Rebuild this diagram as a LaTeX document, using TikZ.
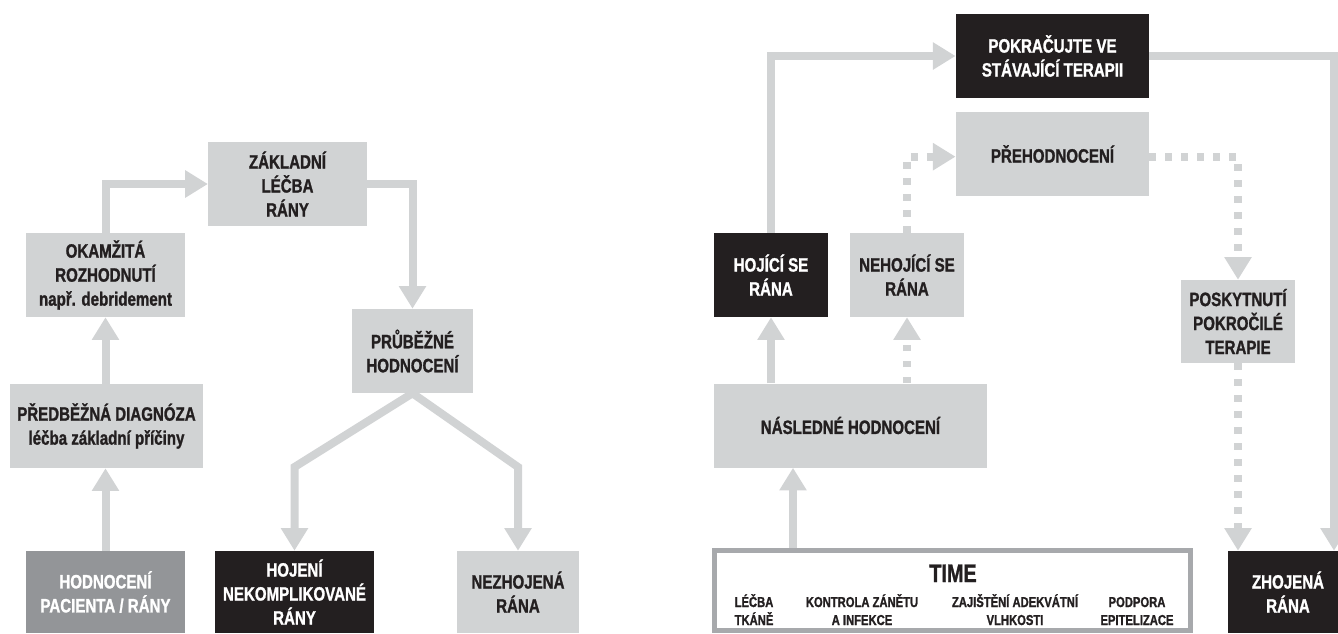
\documentclass[tikz,border=0pt]{standalone}
\usepackage{fontspec}
\setmainfont{Liberation Sans}[FakeStretch=0.78,FakeBold=1.2]
\usetikzlibrary{arrows.meta}

\definecolor{boxgray}{RGB}{209,211,212}
\definecolor{midgray}{RGB}{147,149,152}
\definecolor{inkblack}{RGB}{35,31,32}
\definecolor{framegray}{RGB}{167,169,172}

\begin{document}
\begin{tikzpicture}[x=0.75pt,y=0.75pt,yscale=-1,
  >={Triangle[length=17pt,width=19.5pt]},
  lbox/.style={fill=boxgray, text=inkblack, minimum height=63pt, inner sep=0pt, align=center,
    font=\fontsize{14.5}{18}\selectfont\bfseries},
  dbox/.style={lbox, fill=inkblack, text=white},
  gbox/.style={lbox, fill=midgray, text=white},
  coltext/.style={anchor=base, align=center, text=inkblack, inner sep=0pt,
    font=\fontsize{10.8}{13.5}\selectfont\bfseries},
  flow/.style={draw=boxgray, line width=6pt, ->},
  dotflow/.style={flow, dash pattern=on 5pt off 7pt},
]
\useasboundingbox (0,0) rectangle (1338,633);

% left part
\node[gbox, minimum width=119pt, minimum height=61.5pt] (pat) at (105.5,592) {HODNOCENÍ\\PACIENTA / RÁNY};
\node[lbox, minimum width=145pt] (diag) at (106.5,426) {PŘEDBĚŽNÁ DIAGNÓZA\\léčba základní příčiny};
\node[lbox, minimum width=119pt] (okam) at (105.5,275) {OKAMŽITÁ\\ROZHODNUTÍ\\např. debridement};
\node[lbox, minimum width=119pt] (zakl) at (287.5,184) {ZÁKLADNÍ\\LÉČBA\\RÁNY};
\node[lbox, minimum width=91pt] (prub) at (412.5,351) {PRŮBĚŽNÉ\\HODNOCENÍ};
\node[dbox, minimum width=119pt, minimum height=61.5pt] (hoj) at (294.5,592) {HOJENÍ\\NEKOMPLIKOVANÉ\\RÁNY};
\node[lbox, minimum width=91.5pt, minimum height=61.5pt] (nezh) at (518,592) {NEZHOJENÁ\\RÁNA};

\coordinate (lfork) at (294.5,467);
\coordinate (rfork) at (518,467);

\draw[flow] (pat.north) -- (pat.north |- diag.south);
\draw[flow] (okam.south |- diag.north) -- (okam.south);
\draw[flow] (okam.north) |- (zakl.west);
\draw[flow] (zakl.east) -| (prub.north);
\draw[flow, <->] (hoj.north) -- (lfork) -- (prub.south) -- (rfork) -- (nezh.north);

% right part
\node[dbox, minimum width=145pt] (pokr) at (1052.5,56) {POKRAČUJTE VE\\STÁVAJÍCÍ TERAPII};
\node[lbox, minimum width=145pt] (preh) at (1052.5,154) {PŘEHODNOCENÍ};
\node[dbox, minimum width=85.5pt] (hojse) at (771,275) {HOJÍCÍ SE\\RÁNA};
\node[lbox, minimum width=85.5pt] (nehoj) at (907,275) {NEHOJÍCÍ SE\\RÁNA};
\node[lbox, minimum width=85.5pt, minimum height=62.25pt] (posk) at (1238,321.5) {POSKYTNUTÍ\\POKROČILÉ\\TERAPIE};
\node[lbox, minimum width=205pt] (nasl) at (850.5,425.5) {NÁSLEDNÉ HODNOCENÍ};
\node[dbox, minimum width=90pt, minimum height=61.5pt] (zhoj) at (1288,592) {ZHOJENÁ\\RÁNA};

% TIME
\node[draw=framegray, fill=white, line width=3.75pt, minimum width=357pt, minimum height=60pt, inner sep=0pt] (time) at (952.5,590.5) {};
\node[anchor=base, text=inkblack, inner sep=0pt, font=\fontsize{19}{20}\selectfont\bfseries] (ttl) at (953,582) {TIME};
\node[coltext] (tc1) at (754,625) {LÉČBA\\TKÁNĚ};
\node[coltext] (tc2) at (862,625) {KONTROLA ZÁNĚTU\\A INFEKCE};
\node[coltext] (tc3) at (1015,625) {ZAJIŠTĚNÍ ADEKVÁTNÍ\\VLHKOSTI};
\node[coltext] (tc4) at (1137,625) {PODPORA\\EPITELIZACE};

\coordinate (rturn) at (1334,56);

\draw[flow] (hojse.north) |- (pokr.west);
\draw[flow] (pokr.east) -- (rturn) -- (rturn |- zhoj.north);
\draw[dotflow] (nehoj.north) |- ([yshift=2pt]preh.west);
\draw[dotflow] ([yshift=2pt]preh.east) -| (posk.north);
\draw[dotflow] (posk.south) -- (posk.south |- zhoj.north);
\draw[flow] (hojse.south |- nasl.north) -- (hojse.south);
\draw[dotflow] (nehoj.south |- nasl.north) -- (nehoj.south);
\draw[flow] (793,0 |- time.north) -- (793,0 |- nasl.south);

\end{tikzpicture}
\end{document}
